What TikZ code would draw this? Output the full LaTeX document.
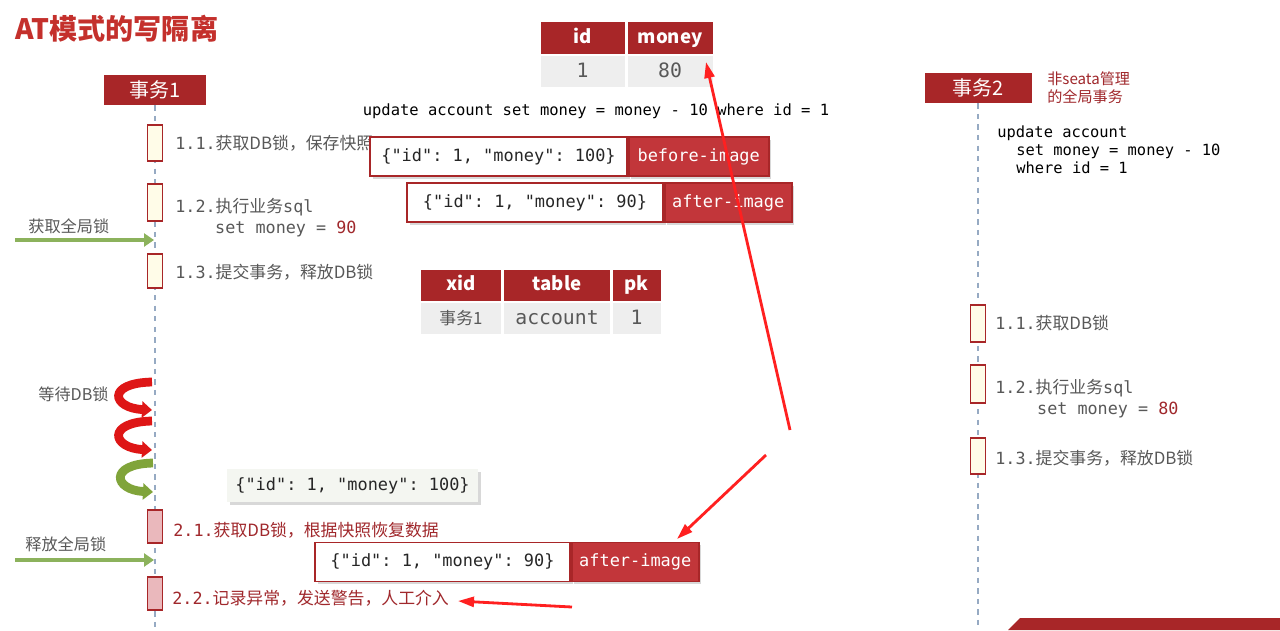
\documentclass[tikz,border=0pt]{standalone}
\usepackage{fontspec}
\setmainfont{Noto Sans CJK SC}
\setmonofont[Scale=0.9]{DejaVu Sans Mono}
\usetikzlibrary{positioning,arrows.meta,shadows}

\definecolor{hdred}{RGB}{168,38,40}
\definecolor{lblred}{RGB}{194,54,58}
\definecolor{ttlred}{RGB}{196,48,44}
\definecolor{txtred}{RGB}{160,40,44}
\definecolor{txtgray}{RGB}{88,88,88}
\definecolor{actyel}{RGB}{255,252,232}
\definecolor{actpink}{RGB}{234,184,188}
\definecolor{cellgray}{RGB}{238,238,238}
\definecolor{lifeblue}{RGB}{150,170,195}
\definecolor{lockgreen}{RGB}{140,178,92}
\definecolor{waitred}{RGB}{222,22,22}
\definecolor{waitgreen}{RGB}{128,164,58}
\definecolor{markred}{RGB}{255,32,32}
\definecolor{jsonbg}{RGB}{244,246,241}

\newcommand\fs[2]{\fontsize{#1}{#2}\selectfont}
\newcommand\tl[1]{{\ttfamily\fs{10.6}{11.9}#1}}

\begin{document}
\begin{tikzpicture}[x=0.02cm, y=-0.02cm,
    head/.style = {fill=hdred, text=white, minimum width=2.04cm, minimum height=0.6cm, inner sep=0, font=\fs{11.4}{13}},
    act/.style = {draw=hdred, fill=actyel, line width=0.7pt, minimum width=0.3cm, inner sep=0},
    actback/.style = {act, fill=actpink},
    lbl/.style = {anchor=west, inner sep=0, text=txtgray, font=\fs{9.6}{11.9}},
    rlbl/.style = {lbl, text=txtred},
    life/.style = {lifeblue, dashed, line width=0.6pt},
    thead/.style = {fill=hdred, text=white, minimum height=0.63cm, inner sep=0, text height=1.55ex, text depth=0.45ex, font=\fs{10.6}{12}\bfseries},
    tcell/.style = {fill=cellgray, text=txtgray, minimum height=0.63cm, inner sep=0, text height=1.6ex, text depth=0.3ex, font=\ttfamily\fs{12.5}{14}},
    json/.style = {fill=white, draw=hdred, line width=1pt, minimum height=0.78cm, inner sep=0, text=black!85, font=\ttfamily\fs{10.7}{12}, drop shadow={opacity=0.3, shadow xshift=1.5pt, shadow yshift=-1.5pt}},
    imglbl/.style = {fill=lblred, draw=hdred, line width=1pt, text=white, minimum height=0.78cm, inner sep=0, font=\ttfamily\fs{10.7}{12}, drop shadow={opacity=0.3, shadow xshift=1.5pt, shadow yshift=-1.5pt}},
    lockarr/.style = {lockgreen, line width=2.2pt, -{Triangle[length=0.2cm,width=0.26cm]}},
    waitarr/.style = {line width=5pt, -{Triangle[length=0.2cm,width=0.32cm]}},
    markarr/.style = {markred, line width=1.6pt, -{Triangle[length=0.32cm,width=0.2cm]}}
]

    \fill[white] (0,0) rectangle (1280,630);
    \useasboundingbox (0,0) rectangle (1280,630);

    % Titre
    \node[anchor=west, inner sep=0, text=ttlred, font=\fs{16}{18}\bfseries] (title) at (15,29) {AT模式的写隔离};

    % Lignes de vie
    \node[head] (t1) at (155,90) {事务1};
    \node[head, minimum width=2.14cm] (t2) at (978,88) {事务2};
    \coordinate (t1end) at (155,630);
    \coordinate (t2end) at (978,630);
    \draw[life] (t1) -- (t1end);
    \draw[life] (t2) -- (t2end);

    % Transaction 1
    \node[act, minimum height=0.72cm] (a11) at (155,143) {};
    \node[act, minimum height=0.74cm] (a12) at (155,202.5) {};
    \node[act, minimum height=0.68cm] (a13) at (155,271) {};
    \node[lbl] (l11) at (175,143) {\tl{1.1.}获取DB锁，保存快照};
    \node[lbl, align=left] (l12) at (175,217.5) {\tl{1.2.}执行业务\tl{sql}\\\hspace*{22.7pt}\tl{set money = \textcolor{txtred}{90}}};
    \node[lbl] (l13) at (175,272) {\tl{1.3.}提交事务，释放DB锁};

    \coordinate (g1) at (15,240);
    \coordinate (g1e) at (154,240);
    \draw[lockarr] (g1) -- (g1e);
    \node[lbl, font=\fs{9.2}{11}] (gl1) at (28,226) {获取全局锁};

    \node[lbl, font=\fs{9.2}{11}] (wl) at (38,394) {等待DB锁};
    \coordinate (w1s) at (152,382);
    \coordinate (w1e) at (152,410);
    \coordinate (w2s) at (152,421);
    \coordinate (w2e) at (152,450);
    \coordinate (w3s) at (153,463);
    \coordinate (w3e) at (153,492);
    \draw[waitarr, waitred] (w1s) .. controls (106,383) and (112,408) .. (w1e);
    \draw[waitarr, waitred] (w2s) .. controls (106,422) and (112,448) .. (w2e);
    \draw[waitarr, waitgreen] (w3s) .. controls (108,464) and (114,490) .. (w3e);

    \node[json, draw=none, fill=jsonbg, minimum width=5.02cm, minimum height=0.66cm] (snap) at (352.5,485.5) {\{"id": 1, "money": 100\}};

    \node[actback, minimum height=0.66cm] (a21) at (155,526.5) {};
    \node[actback, minimum height=0.66cm] (a22) at (155,593.5) {};
    \node[rlbl] (l21) at (173,530) {\tl{2.1.}获取DB锁，根据快照恢复数据};
    \node[rlbl] (l22) at (172,598) {\tl{2.2.}记录异常，发送警告，人工介入};

    \coordinate (g2) at (15,560);
    \coordinate (g2e) at (154,560);
    \draw[lockarr] (g2) -- (g2e);
    \node[lbl, font=\fs{9.2}{11}] (gl2) at (25,544) {释放全局锁};

    % Table account
    \node[thead, minimum width=1.68cm] (hid) at (582.5,38) {id};
    \node[thead, minimum width=1.7cm] (hmoney) at (670,38) {money};
    \node[tcell, minimum width=1.68cm] (cid) at (582.5,71.5) {1};
    \node[tcell, minimum width=1.7cm] (cmoney) at (670,71.5) {80};

    \node[inner sep=0, font=\ttfamily\fs{9.8}{12}] (upd) at (596,111) {update account set money = money - 10 where id = 1};

    % Images
    \node[json, minimum width=5.14cm] (bjson) at (498.5,156.5) {\{"id": 1, "money": 100\}};
    \node[imglbl, minimum width=2.8cm, right=0pt of bjson] (bimg) {before-image};
    \node[json, minimum width=5.12cm] (ajson) at (535,202.5) {\{"id": 1, "money": 90\}};
    \node[imglbl, minimum width=2.54cm, right=0pt of ajson] (aimg) {after-image};
    \node[json, minimum width=5.1cm] (rjson) at (442.5,562) {\{"id": 1, "money": 90\}};
    \node[imglbl, minimum width=2.54cm, right=0pt of rjson] (rimg) {after-image};

    % Table lock_table
    \node[thead, minimum width=1.6cm] (hxid) at (461,285.5) {xid};
    \node[thead, minimum width=2.12cm] (htable) at (557,285.5) {table};
    \node[thead, minimum width=0.96cm] (hpk) at (636.5,285.5) {pk};
    \node[tcell, minimum width=1.6cm, font=\fs{9.6}{12}] (cxid) at (461,318.5) {事务1};
    \node[tcell, minimum width=2.12cm] (ctable) at (557,318.5) {account};
    \node[tcell, minimum width=0.96cm] (cpk) at (636.5,318.5) {1};

    % Transaction 2
    \node[anchor=north west, inner sep=0, text=txtred, font=\fs{8.6}{10.2}, align=left] (t2note) at (1047,71) {非seata管理\\的全局事务};
    \node[anchor=north west, inner sep=0, font=\ttfamily\fs{9.75}{10.5}, align=left] (sql2) at (997,125) {update account\\\hspace*{10.8pt}set money = money - 10\\\hspace*{10.8pt}where id = 1};

    \node[act, minimum height=0.74cm] (b11) at (978,323.5) {};
    \node[act, minimum height=0.76cm] (b12) at (978,384) {};
    \node[act, minimum height=0.72cm] (b13) at (978,456) {};
    \node[lbl] (m11) at (995,323) {\tl{1.1.}获取DB锁};
    \node[lbl, align=left] (m12) at (995,398.5) {\tl{1.2.}执行业务\tl{sql}\\\hspace*{23.8pt}\tl{set money = \textcolor{txtred}{80}}};
    \node[lbl] (m13) at (995,458) {\tl{1.3.}提交事务，释放DB锁};

    % Annotations
    \coordinate (k1s) at (790,430);
    \coordinate (k1e) at (706,62);
    \coordinate (k2s) at (766,455);
    \coordinate (k2e) at (677,539);
    \coordinate (k3s) at (572,607);
    \coordinate (k3e) at (458,601);
    \draw[markarr] (k1s) -- (k1e);
    \draw[markarr] (k2s) -- (k2e);
    \draw[markarr] (k3s) -- (k3e);

    \fill[hdred] (1008,630) -- (1020,618) -- (1280,618) -- (1280,630) -- cycle;

\end{tikzpicture}
\end{document}
